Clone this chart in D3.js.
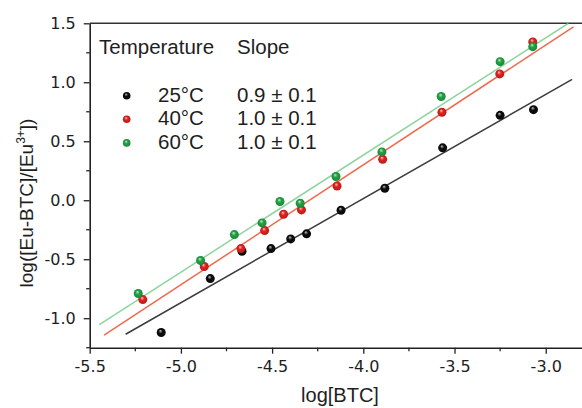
<!DOCTYPE html>
<html>
<head>
<meta charset="utf-8">
<script src="https://cdn.jsdelivr.net/npm/d3@7"></script>
<style>
  body { margin: 0; background: #fff; }
  svg { display: block; }
</style>
</head>
<body>
<div id="chart"></div>
<script>
// ---------------------------------------------------------------
// data
// ---------------------------------------------------------------
var logBTC_25 = [-5.108, -4.839, -4.665, -4.506, -4.398, -4.311, -4.122, -3.882, -3.565, -3.250, -3.067];
var logK_25   = [-1.121, -0.664, -0.432, -0.410, -0.328, -0.285, -0.085,  0.102,  0.444,  0.720,  0.768];

var logBTC_40 = [-5.209, -4.872, -4.671, -4.541, -4.437, -4.339, -4.144, -3.894, -3.569, -3.252, -3.071];
var logK_40   = [-0.842, -0.562, -0.410, -0.257, -0.119, -0.082,  0.121,  0.347,  0.746,  1.071,  1.342];

var logBTC_60 = [-5.234, -4.892, -4.707, -4.555, -4.457, -4.346, -4.150, -3.898, -3.573, -3.250, -3.071];
var logK_60   = [-0.791, -0.511, -0.291, -0.192, -0.011, -0.025,  0.201,  0.410,  0.879,  1.175,  1.302];

// fitted lines, end points
var fitX_25 = [-5.303, -2.855], fitY_25 = [-1.136, 1.025];
var fitX_40 = [-5.421, -2.848], fitY_40 = [-1.144, 1.470];
var fitX_60 = [-5.447, -2.876], fitY_60 = [-1.054, 1.500];

var temperatures = ["25°C", "40°C", "60°C"];
var slopes = ["0.9 ± 0.1", "1.0 ± 0.1", "1.0 ± 0.1"];

var xTicks = [-5.5, -5.0, -4.5, -4.0, -3.5, -3.0];
var xMinor = [-5.25, -4.75, -4.25, -3.75, -3.25];
var yTicks = [-1.0, -0.5, 0.0, 0.5, 1.0, 1.5];
var yMinor = [-1.25, -0.75, -0.25, 0.25, 0.75, 1.25];

// ---------------------------------------------------------------
// series setup
// ---------------------------------------------------------------
var series = [
  { name: "s25", xs: logBTC_25, ys: logK_25, fx: fitX_25, fy: fitY_25,
    ball: "#0c0c0c", hi: "#c8c8c8", line: "#3c3c3c" },
  { name: "s40", xs: logBTC_40, ys: logK_40, fx: fitX_40, fy: fitY_40,
    ball: "#e0221f", hi: "#ffc8bd", line: "#ee6a4c" },
  { name: "s60", xs: logBTC_60, ys: logK_60, fx: fitX_60, fy: fitY_60,
    ball: "#22a245", hi: "#c0f2cb", line: "#8ed49d" }
];

var W = 582, H = 408;
var plotLeft = 89.7, plotTop = 23.3, plotBottom = 347.7;

var svg = d3.select("#chart")
  .append("svg")
  .attr("width", W)
  .attr("height", H);

svg.append("rect").attr("width", W).attr("height", H).attr("fill", "white");

var x = d3.scaleLinear().domain([-5.5, -2.8]).range([plotLeft, 582.2]);
var y = d3.scaleLinear().domain([-1.25, 1.5]).range([plotBottom, plotTop]);

// gradients for the shaded balls
var defs = svg.append("defs");
series.forEach(function (s) {
  var g = defs.append("radialGradient")
    .attr("id", "grad_" + s.name)
    .attr("cx", "50%").attr("cy", "50%").attr("r", "55%")
    .attr("fx", "40%").attr("fy", "30%");
  g.append("stop").attr("offset", "0%").attr("stop-color", s.hi);
  g.append("stop").attr("offset", "40%").attr("stop-color", s.ball);
  g.append("stop").attr("offset", "100%").attr("stop-color", d3.color(s.ball).darker(0.6));
});

// clip the plot area
defs.append("clipPath").attr("id", "plotclip")
  .append("rect")
  .attr("x", plotLeft).attr("y", plotTop)
  .attr("width", W - plotLeft).attr("height", plotBottom - plotTop);

// ---------------------------------------------------------------
// axes
// ---------------------------------------------------------------
var tickFont = "'DejaVu Sans', sans-serif";

var xAxis = svg.append("g")
  .attr("transform", "translate(0," + plotBottom + ")")
  .call(d3.axisBottom(x).tickValues(xTicks).tickSize(6).tickSizeOuter(0).tickPadding(7)
    .tickFormat(d3.format(".1f")));
xAxis.append("g").selectAll("line").data(xMinor).enter().append("line")
  .attr("x1", function (d) { return x(d); }).attr("x2", function (d) { return x(d); })
  .attr("y1", 0).attr("y2", 3.5).attr("stroke", "#222").attr("stroke-width", 1.3);

var yAxis = svg.append("g")
  .attr("transform", "translate(" + plotLeft + ",0)")
  .call(d3.axisLeft(y).tickValues(yTicks).tickSize(6).tickSizeOuter(0).tickPadding(8)
    .tickFormat(d3.format(".1f")));
yAxis.append("g").selectAll("line").data(yMinor).enter().append("line")
  .attr("y1", function (d) { return y(d); }).attr("y2", function (d) { return y(d); })
  .attr("x1", 0).attr("x2", -3.5).attr("stroke", "#222").attr("stroke-width", 1.3);

[xAxis, yAxis].forEach(function (a) {
  a.select(".domain").attr("stroke", "#222").attr("stroke-width", 1.6);
  a.selectAll(".tick line").attr("stroke", "#222").attr("stroke-width", 1.3);
  a.selectAll(".tick text")
    .attr("fill", "#1e1e1e")
    .style("font-family", tickFont)
    .style("font-size", "16px");
});
// plain hyphen for minus, as in the figure
xAxis.selectAll(".tick text").text(function (d) { return d.toFixed(1); });
yAxis.selectAll(".tick text").text(function (d) { return d.toFixed(1); });

// top frame line
svg.append("line")
  .attr("x1", plotLeft).attr("x2", W)
  .attr("y1", plotTop).attr("y2", plotTop)
  .attr("stroke", "#333").attr("stroke-width", 1.6);

// axis titles
var titleFont = "'Liberation Sans', Arial, sans-serif";
svg.append("text")
  .attr("x", 340).attr("y", 402)
  .attr("text-anchor", "middle")
  .style("font-family", titleFont).style("font-size", "20px").attr("fill", "#1e1e1e")
  .text("log[BTC]");

var yt = svg.append("text")
  .attr("transform", "translate(33,203) rotate(-90)")
  .attr("text-anchor", "middle")
  .style("font-family", titleFont).style("font-size", "19px").attr("fill", "#1e1e1e");
yt.append("tspan").text("log([Eu-BTC]/[Eu");
yt.append("tspan").attr("dy", -8).style("font-size", "12px").text("3+");
yt.append("tspan").attr("dy", 8).text("])");

// ---------------------------------------------------------------
// fit lines and points
// ---------------------------------------------------------------
var plot = svg.append("g").attr("clip-path", "url(#plotclip)");

series.forEach(function (s) {
  var pts = s.fx.map(function (v, i) { return [v, s.fy[i]]; });
  plot.append("path")
    .datum(pts)
    .attr("fill", "none")
    .attr("stroke", s.line)
    .attr("stroke-width", 1.5)
    .attr("d", d3.line().x(function (d) { return x(d[0]); }).y(function (d) { return y(d[1]); }));
});

series.forEach(function (s) {
  var pts = s.xs.map(function (v, i) { return [v, s.ys[i]]; });
  plot.selectAll(".pt_" + s.name)
    .data(pts)
    .enter()
    .append("circle")
    .attr("class", "pt_" + s.name)
    .attr("cx", function (d) { return x(d[0]); })
    .attr("cy", function (d) { return y(d[1]); })
    .attr("r", 4.5)
    .attr("fill", "url(#grad_" + s.name + ")");
});

// ---------------------------------------------------------------
// legend
// ---------------------------------------------------------------
var legend = svg.append("g")
  .style("font-family", titleFont)
  .style("font-size", "20.5px")
  .attr("fill", "#1e1e1e");

legend.append("text").attr("x", 99).attr("y", 54).text("Temperature");
legend.append("text").attr("x", 237).attr("y", 54).text("Slope");

series.forEach(function (s, i) {
  var rowY = 101.7 + i * 23.6;
  legend.append("circle")
    .attr("cx", 126.7).attr("cy", rowY - 6)
    .attr("r", 3.8)
    .attr("fill", "url(#grad_" + s.name + ")");
  legend.append("text").attr("x", 158).attr("y", rowY).text(temperatures[i]);
  legend.append("text").attr("x", 237).attr("y", rowY).text(slopes[i]);
});
</script>
</body>
</html>
